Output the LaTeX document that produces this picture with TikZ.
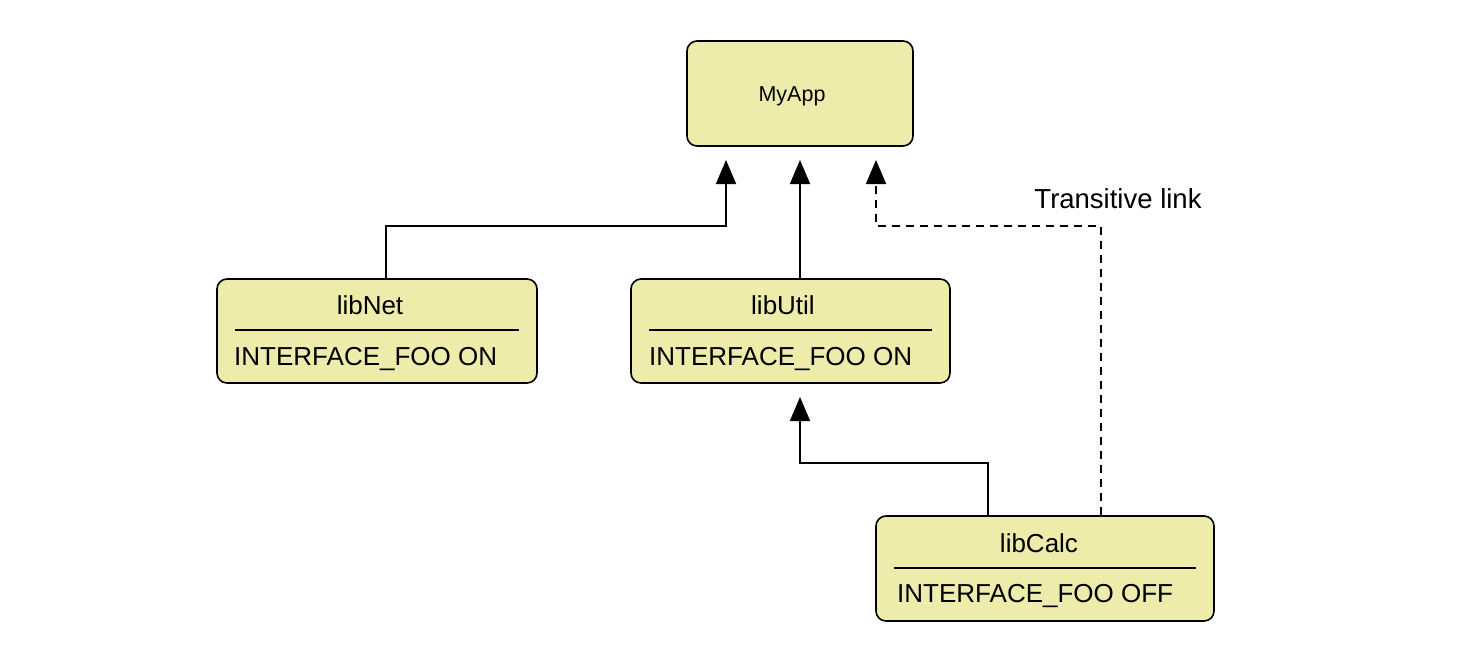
\documentclass[tikz,border=0pt]{standalone}
\usepackage{fontspec}
\setmainfont{Liberation Sans}
\usetikzlibrary{arrows.meta}
\definecolor{boxfill}{RGB}{238,236,170}
\begin{document}
\begin{tikzpicture}[x=1pt,y=-1pt,
  box/.style={draw, fill=boxfill, rounded corners=10pt, line width=1.6pt, inner sep=0pt},
  txt/.style={inner sep=0pt, font=\fontsize{26}{30}\selectfont},
  big/.style={inner sep=0pt, font=\fontsize{27.5}{32}\selectfont},
  small/.style={inner sep=0pt, font=\fontsize{21.5}{26}\selectfont},
  sep/.style={line width=1.6pt},
  conn/.style={line width=1.6pt, -{Triangle[length=24pt,width=20pt]}},
  dconn/.style={conn, dash pattern=on 8pt off 6pt}]
\useasboundingbox (0,0) rectangle (1484,654);
% boxes
\node[box, minimum width=226pt, minimum height=105pt] (myapp) at (800,93.5) {};
\node[small] (myappt) at (792,96) {MyApp};
\node[box, minimum width=320pt, minimum height=104pt] (libnet) at (377,331) {};
\node[box, minimum width=319pt, minimum height=104pt] (libutil) at (790.5,331) {};
\node[box, minimum width=338pt, minimum height=105pt] (libcalc) at (1045,568.5) {};
% titles and bodies
\node[txt] (libnett) at (370,305) {libNet};
\node[txt, anchor=west] (libnetb) at (234,358.5) {INTERFACE\_FOO ON};
\node[txt] (libutilt) at (783,305) {libUtil};
\node[txt, anchor=west] (libutilb) at (649,358.5) {INTERFACE\_FOO ON};
\node[txt] (libcalct) at (1039,543.5) {libCalc};
\node[txt, anchor=west] (libcalcb) at (897,595.5) {INTERFACE\_FOO OFF};
\node[big] (translabel) at (1118,199) {Transitive link};
% separators
\coordinate (s1a) at (235,330); \coordinate (s1b) at (519,330);
\coordinate (s2a) at (649,330); \coordinate (s2b) at (932,330);
\coordinate (s3a) at (894,568); \coordinate (s3b) at (1196,568);
\draw[sep] (s1a) -- (s1b);
\draw[sep] (s2a) -- (s2b);
\draw[sep] (s3a) -- (s3b);
% connector points
\coordinate (t1) at (726,160);
\coordinate (t2) at (800,160);
\coordinate (t3) at (876,160);
\coordinate (t4) at (800,397);
\coordinate (x1) at (386,0);
\coordinate (x2) at (800,0);
\coordinate (x3) at (1101,0);
\coordinate (x4) at (988,0);
\coordinate (h1) at (0,226);
\coordinate (h2) at (0,463);
% connectors
\draw[conn] (libnet.north -| x1) -- (x1 |- h1) -| (t1);
\draw[conn] (libutil.north -| x2) -- (t2);
\draw[dconn] (libcalc.north -| x3) -- (x3 |- h1) -| (t3);
\draw[conn] (libcalc.north -| x4) -- (x4 |- h2) -| (t4);
\end{tikzpicture}
\end{document}
